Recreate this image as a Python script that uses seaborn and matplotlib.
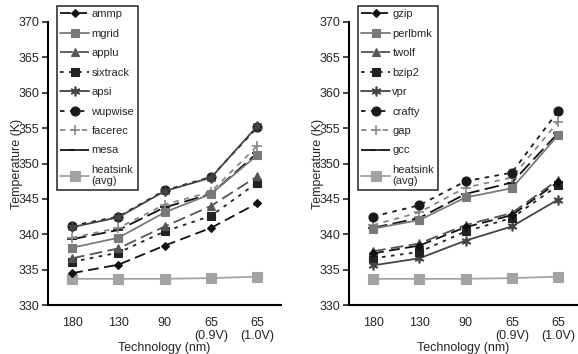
import matplotlib
matplotlib.use('agg')
import matplotlib.pyplot as plt
import seaborn as sns
import pandas as pd

# x categories
tech = ['180', '130', '90', '65\n(0.9V)', '65\n(1.0V)']

# left panel benchmarks (temperature in K)
ammp     = [334.5, 335.7, 338.4, 340.9, 344.4]
mgrid    = [338.1, 339.5, 343.1, 345.7, 351.2]
applu    = [336.6, 338.0, 341.1, 344.0, 348.2]
sixtrack = [336.1, 337.4, 340.4, 342.6, 347.3]
apsi     = [341.0, 342.4, 346.1, 348.0, 355.3]
wupwise  = [341.2, 342.5, 346.2, 348.1, 355.1]
facerec  = [339.5, 340.9, 344.2, 346.0, 352.5]
mesa     = [339.3, 340.6, 343.8, 345.7, 351.5]
heatsink_l = [333.7, 333.7, 333.7, 333.8, 334.0]

# right panel benchmarks
gzip    = [337.3, 338.4, 341.0, 342.7, 347.4]
perlbmk = [340.8, 342.0, 345.2, 346.5, 354.0]
twolf   = [337.6, 338.7, 341.3, 343.0, 347.7]
bzip2   = [336.6, 337.5, 340.4, 342.3, 346.9]
vpr     = [335.6, 336.6, 339.1, 341.1, 344.9]
crafty  = [342.5, 344.1, 347.5, 348.7, 357.4]
gap     = [341.3, 343.1, 346.6, 348.0, 355.9]
gcc     = [340.9, 342.3, 345.7, 347.3, 354.3]
heatsink_r = [333.7, 333.7, 333.7, 333.8, 334.0]

left_names = ['ammp', 'mgrid', 'applu', 'sixtrack', 'apsi', 'wupwise', 'facerec', 'mesa', 'heatsink\n(avg)']
left_vals = [ammp, mgrid, applu, sixtrack, apsi, wupwise, facerec, mesa, heatsink_l]
right_names = ['gzip', 'perlbmk', 'twolf', 'bzip2', 'vpr', 'crafty', 'gap', 'gcc', 'heatsink\n(avg)']
right_vals = [gzip, perlbmk, twolf, bzip2, vpr, crafty, gap, gcc, heatsink_r]

# line styles shared by position in the list
colors = ['#111111', '#7a7a7a', '#555555', '#222222', '#444444', '#1a1a1a', '#888888', '#111111', '#a3a3a3']
markers = ['D', 's', '^', 's', (6, 2, 0), 'o', '+', '_', 's']
msizes = [4.5, 6, 6, 6, 7, 6.5, 7, 7, 6.5]
lstyles = [(0, (6, 3)), '-', (0, (7, 3)), (0, (2, 3)), '-', (0, (2.5, 3)), (0, (3, 3)), (0, (8, 3)), '-']

sns.set_style('white')
plt.rcParams['font.family'] = ['Liberation Sans', 'DejaVu Sans']

fig = plt.figure(figsize=(5.78, 3.54), dpi=100)
W, H = 578, 354


def panel(left_px, right_px, xmax, names, vals, leg_x):
    ax = fig.add_axes([left_px / W, (H - 305) / H, (right_px - left_px) / W, (305 - 22) / H])
    for i, (nm, v) in enumerate(zip(names, vals)):
        df = pd.DataFrame({'tech': range(len(tech)), 'temp': v})
        sns.lineplot(data=df, x='tech', y='temp', ax=ax, color=colors[i],
                     marker=markers[i], markersize=msizes[i], markeredgecolor=colors[i],
                     markeredgewidth=1.2 if i in (4, 6, 7) else 0.8,
                     linestyle=lstyles[i], lw=1.3, label=nm,
                     zorder=10 - i if i < 8 else 2)
    ax.set_xlim(-0.52, xmax)
    ax.set_ylim(330, 370)
    ax.set_yticks(range(330, 371, 5))
    ax.set_xticks(range(len(tech)))
    ax.set_xticklabels(tech, fontsize=9, linespacing=1.0)
    ax.tick_params(axis='y', labelsize=9, length=4, width=1.2, direction='out', left=True, pad=2)
    ax.tick_params(axis='x', length=0, pad=9)
    for s in ['top', 'right']:
        ax.spines[s].set_visible(False)
    for s in ['left', 'bottom']:
        ax.spines[s].set_linewidth(1.5)
        ax.spines[s].set_color('black')
    ax.set_xlabel('Technology (nm)', fontsize=9, labelpad=0)
    ax.set_ylabel('Temperature (K)', fontsize=9, labelpad=-3)
    leg = ax.legend(loc='upper left', bbox_to_anchor=(leg_x / W, 1 - 6 / H),
                    bbox_transform=fig.transFigure, fontsize=8, frameon=True,
                    fancybox=False, borderpad=0.3, labelspacing=0.85,
                    handlelength=2.6, handletextpad=0.2, borderaxespad=0)
    leg.get_frame().set_edgecolor('black')
    leg.get_frame().set_linewidth(1.2)
    return ax


panel(48, 281, 4.51, left_names, left_vals, 57)
panel(349, 578, 4.43, right_names, right_vals, 358)

fig.savefig('out.png', dpi=100)
